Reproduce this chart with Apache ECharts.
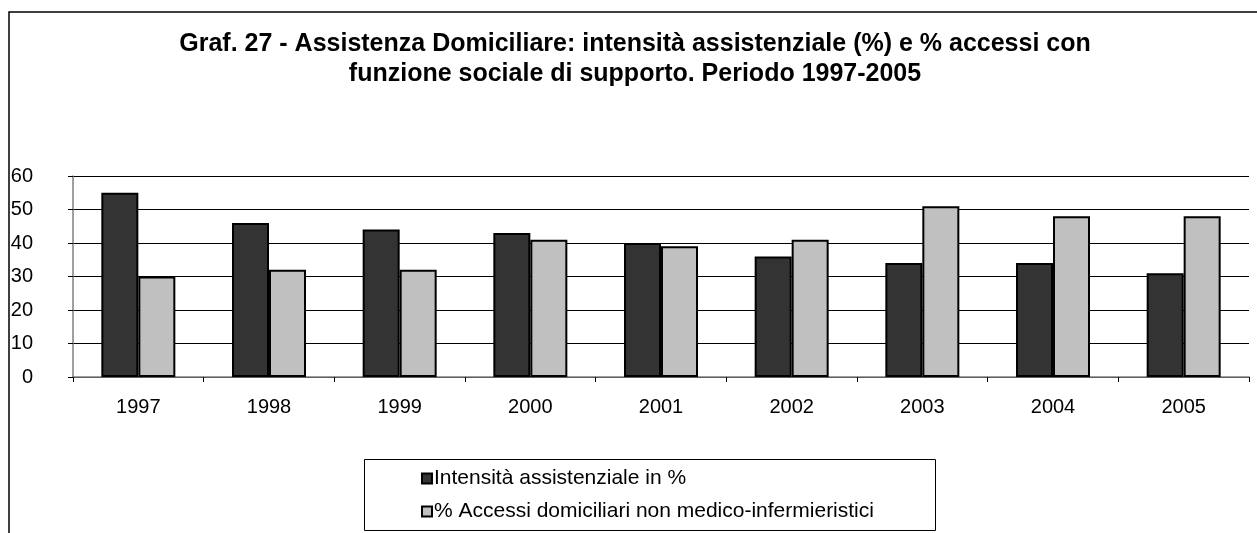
<!DOCTYPE html>
<html lang="it">
<head>
<meta charset="UTF-8">
<title>Graf. 27 - Assistenza Domiciliare</title>
<script src="https://cdn.jsdelivr.net/npm/echarts@6/dist/echarts.min.js"></script>
<style>
  html, body { margin: 0; padding: 0; background: #fff; }
  #chart { width: 1257px; height: 533px; }
</style>
</head>
<body>
<div id="chart"></div>
<script>
  // dati
  const anni = ['1997', '1998', '1999', '2000', '2001', '2002', '2003', '2004', '2005'];
  const intensita = [55, 46, 44, 43, 40, 36, 34, 34, 31];
  const accessiNonMedici = [30, 32, 32, 41, 39, 41, 51, 48, 48];
  const nomiSerie = ['Intensità assistenziale in %', '% Accessi domiciliari non medico-infermieristici'];

  const font = 'Liberation Sans, Arial, sans-serif';
  const chart = echarts.init(document.getElementById('chart'));

  chart.setOption({
    animation: false,
    textStyle: { fontFamily: font },
    title: {
      text: 'Graf. 27 - Assistenza Domiciliare: intensità assistenziale (%) e % accessi con\nfunzione sociale di supporto. Periodo 1997-2005',
      left: 630,
      top: 24,
      textAlign: 'center',
      textStyle: { fontFamily: font, fontSize: 25, fontWeight: 'bold', color: '#000', lineHeight: 30 }
    },
    graphic: [
      // cornice del grafico e riquadro della legenda
      { type: 'rect', shape: { x: 9, y: 12, width: 1300, height: 560 },
        style: { fill: null, stroke: '#000', lineWidth: 1.5 }, silent: true, z: -1 },
      { type: 'rect', shape: { x: 364.5, y: 459.5, width: 571, height: 71 },
        style: { fill: '#fff', stroke: '#000', lineWidth: 1 }, silent: true, z: -1 }
    ],
    legend: {
      orient: 'vertical',
      left: 421,
      top: 468,
      icon: 'rect',
      itemWidth: 10,
      itemHeight: 10,
      itemGap: 12,
      padding: 0,
      textStyle: { fontFamily: font, fontSize: 21, color: '#000', padding: [0, 0, 0, -3] },
      data: nomiSerie
    },
    grid: { left: 73, right: 8, top: 176, bottom: 156, containLabel: false },
    xAxis: {
      type: 'category',
      data: anni,
      axisLine: { lineStyle: { color: '#808080', width: 1.5 } },
      axisTick: { show: true, length: 5, lineStyle: { color: '#000' } },
      axisLabel: { fontFamily: font, fontSize: 20, color: '#000', margin: 20 }
    },
    yAxis: {
      type: 'value',
      min: 0,
      max: 60,
      interval: 10,
      axisLine: { show: true, lineStyle: { color: '#808080', width: 1.5 } },
      axisTick: { show: true, inside: false, length: 5, lineStyle: { color: '#000' } },
      axisLabel: { fontFamily: font, fontSize: 20, color: '#000', margin: 40, align: 'right' },
      splitLine: { lineStyle: { color: '#000', width: 1 } }
    },
    series: [
      {
        name: nomiSerie[0],
        type: 'bar',
        data: intensita,
        barWidth: 37,
        barGap: '0%',
        itemStyle: { color: '#333333', borderColor: '#000', borderWidth: 2 }
      },
      {
        name: nomiSerie[1],
        type: 'bar',
        data: accessiNonMedici,
        barWidth: 37,
        itemStyle: { color: '#c0c0c0', borderColor: '#000', borderWidth: 2 }
      }
    ]
  });
</script>
</body>
</html>
